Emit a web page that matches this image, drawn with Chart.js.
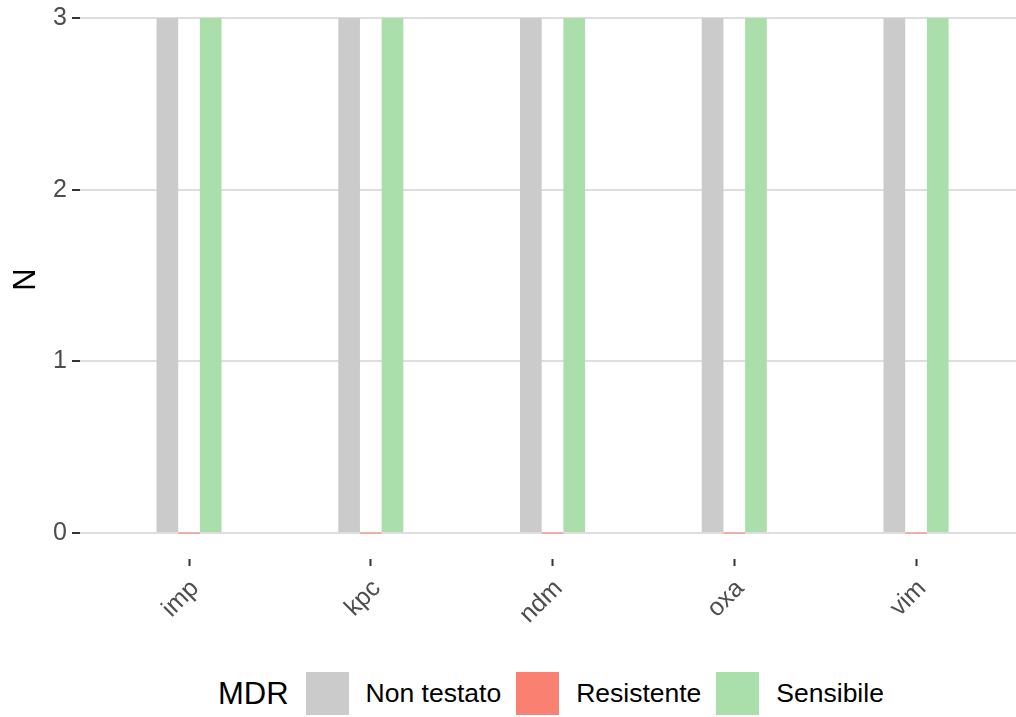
<!DOCTYPE html>
<html>
<head>
<meta charset="utf-8">
<script src="https://cdn.jsdelivr.net/npm/chart.js@4"></script>
<style>
    body { margin: 0; background: #fff; font-family: "Liberation Sans", Arial, sans-serif; }
    #wrap { position: relative; width: 1016px; height: 717px; overflow: hidden; }
    #graphique { position: absolute; left: 0; top: -20px; }
    #legende { position: absolute; left: 218px; top: 672px; height: 43px; display: flex; align-items: center; }
    #legende .titre { font-size: 31px; color: #000; margin-right: 17px; }
    #legende .boite { width: 43px; height: 43px; margin-right: 17px; }
    #legende .label { font-size: 26.5px; color: #000; margin-right: 15px; }
</style>
</head>
<body>
<div id="wrap">
    <canvas id="graphique" width="1016" height="670"></canvas>
    <div id="legende"></div>
</div>
<script>
const categories = ["imp", "kpc", "ndm", "oxa", "vim"];
const nonTestato = [3, 3, 3, 3, 3];
const resistente = [0, 0, 0, 0, 0];
const sensibile = [3, 3, 3, 3, 3];
const yTicks = [0, 1, 2, 3];
const seriesNoms = ["Non testato", "Resistente", "Sensibile"];
const legendeTitre = "MDR";

const couleurs = ["#CBCBCB", "#FA8072", "#AADEAA"];

// décalage du canvas vers le haut (marge du haut ajoutée par Chart.js)
const decalage = 20;

function points(valeurs) {
    return valeurs.map((v, i) => ({ x: i, y: v }));
}

const ctx = document.getElementById("graphique");
new Chart(ctx, {
    type: "bar",
    data: {
        datasets: [
            { label: seriesNoms[0], data: points(nonTestato), backgroundColor: couleurs[0] },
            { label: seriesNoms[1], data: points(resistente), backgroundColor: couleurs[1], minBarLength: 1 },
            { label: seriesNoms[2], data: points(sensibile), backgroundColor: couleurs[2] }
        ]
    },
    options: {
        responsive: false,
        animation: false,
        categoryPercentage: 0.358,
        barPercentage: 1,
        layout: { padding: 0 },
        plugins: {
            legend: { display: false },
            tooltip: { enabled: false }
        },
        scales: {
            x: {
                type: "linear",
                offset: false,
                min: -0.6,
                max: 4.55,
                afterBuildTicks: (scale) => {
                    scale.ticks = categories.map((c, i) => ({ value: i }));
                },
                afterFit: (scale) => {
                    scale.height = 670 - (559 + decalage);
                },
                border: { display: false },
                grid: {
                    offset: false,
                    drawOnChartArea: false,
                    drawTicks: true,
                    tickLength: 7,
                    tickColor: "#333333",
                    tickWidth: 2
                },
                ticks: {
                    autoSkip: false,
                    maxRotation: 45,
                    minRotation: 45,
                    padding: 8,
                    labelOffset: 6,
                    color: "#4D4D4D",
                    font: { family: "Liberation Sans", size: 25 },
                    callback: (v) => categories[v]
                }
            },
            y: {
                min: -0.151,
                max: 3.105,
                afterBuildTicks: (scale) => {
                    scale.ticks = yTicks.map(v => ({ value: v }));
                },
                afterFit: (scale) => {
                    scale.width = 80;
                },
                border: { display: false },
                grid: {
                    color: "#DEDEDE",
                    lineWidth: 2,
                    drawTicks: true,
                    tickLength: 8,
                    tickColor: "#333333",
                    tickWidth: 2
                },
                ticks: {
                    padding: 5,
                    color: "#4D4D4D",
                    font: { family: "Liberation Sans", size: 25 }
                },
                title: {
                    display: true,
                    text: "N",
                    color: "#000",
                    padding: { top: 8, bottom: 0 },
                    font: { family: "Liberation Sans", size: 31 }
                }
            }
        }
    }
});

const legende = document.getElementById("legende");
const titre = document.createElement("span");
titre.className = "titre";
titre.textContent = legendeTitre;
legende.appendChild(titre);
seriesNoms.forEach((nom, i) => {
    const boite = document.createElement("span");
    boite.className = "boite";
    boite.style.background = couleurs[i];
    legende.appendChild(boite);
    const label = document.createElement("span");
    label.className = "label";
    label.textContent = nom;
    legende.appendChild(label);
});
</script>
</body>
</html>
